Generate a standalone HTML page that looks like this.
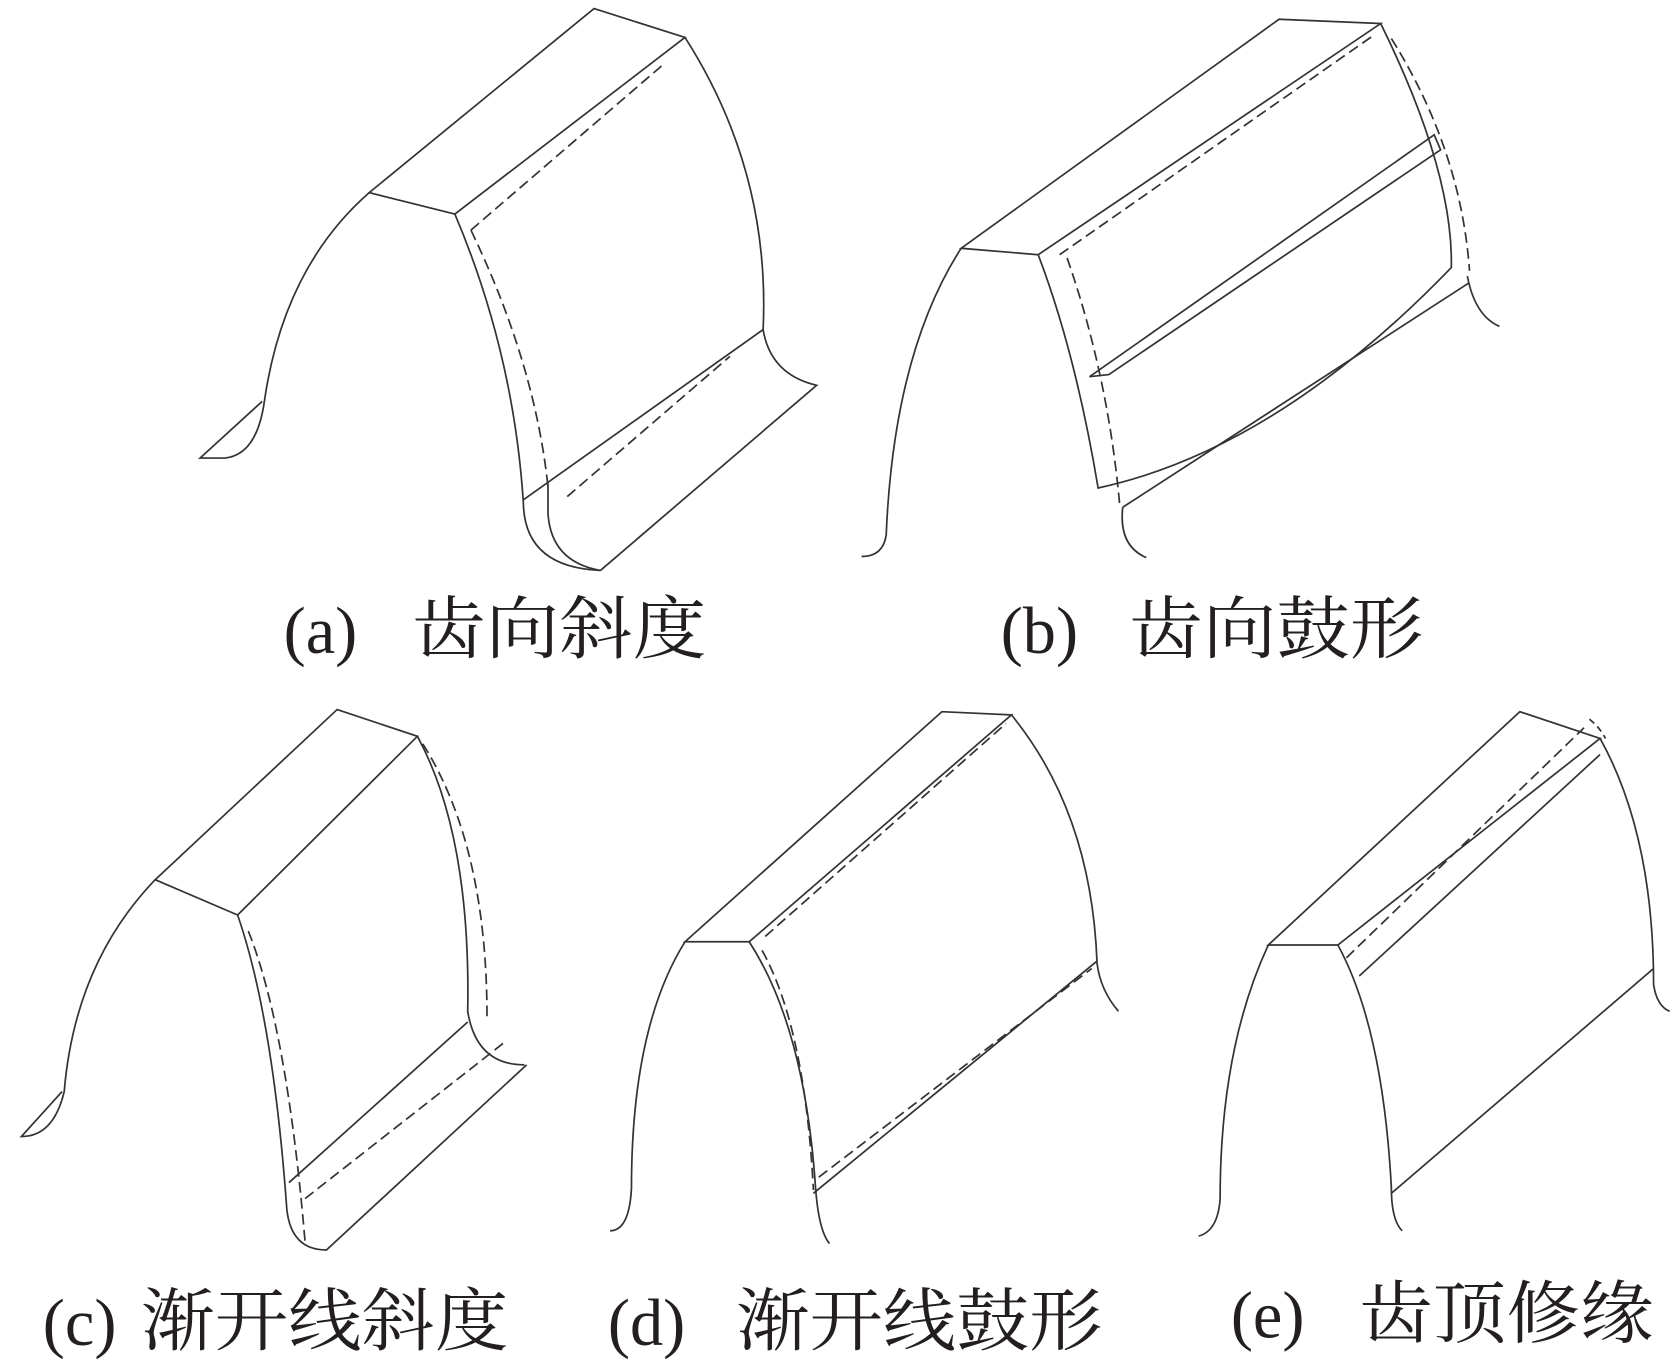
<!DOCTYPE html>
<html><head><meta charset="utf-8"><style>
html,body{margin:0;padding:0;background:#fff}
svg{display:block}
text{font-family:"Liberation Serif","Noto Serif CJK SC",serif;font-size:62px;fill:#231f20}
text.c{font-family:"Noto Serif CJK SC","Noto Sans CJK SC",serif;font-size:64px}
</style></head><body>
<svg width="1675" height="1372" viewBox="0 0 1565 1282" preserveAspectRatio="none">
<g fill="none" stroke="#333" stroke-width="1.6">
<!-- (a) -->
<path d="M555,8 L640,35 L425,200 L345,180 Z"/>
<path d="M345,180 Q265,250 247,375 Q240,425 210,428 L187,428 L245,375"/>
<path d="M425,200 Q480,330 489,470 Q490,530 561,533"/>
<path d="M512,452 L512,480 Q515,525 561,533"/>
<path d="M640,35 Q720,160 713,308 Q720,350 763,360 L561,533"/>
<path d="M489,467 L713,308"/>
<path d="M440,215 L620,60" stroke-dasharray="10,5"/>
<path d="M440,215 Q500,340 512,455" stroke-dasharray="10,5"/>
<path d="M530,464 L682,333" stroke-dasharray="10,5"/>
<!-- (b) -->
<path d="M898,232 L1195,18 L1290,22 L970,238 Z"/>
<path d="M898,232 Q835,330 828,500 Q825,520 805,520"/>
<path d="M970,238 Q1005,330 1026,456 Q1192,420 1356,250 Q1358,160 1290,22"/>
<path d="M1018,352 L1340,126 L1346,140 L1036,350 Z"/>
<path d="M1049,474 L1373,264"/>
<path d="M1049,474 Q1045,510 1071,521"/>
<path d="M1371,258 Q1378,295 1401,305"/>
<path d="M997,241 Q1035,350 1046,470" stroke-dasharray="10,5"/>
<path d="M1300,36 Q1365,140 1373,253" stroke-dasharray="10,5"/>
<path d="M990,238 L1282,34" stroke-dasharray="10,5"/>
<!-- (c) -->
<path d="M315,663 L390,688 L222,855 L145,822 Z"/>
<path d="M145,822 Q70,900 60,1020 Q50,1062 20,1062 L58,1020"/>
<path d="M222,855 Q255,950 268,1130 Q272,1168 305,1168 L492,995"/>
<path d="M390,688 Q440,780 437,945 Q445,995 490,995"/>
<path d="M437,955 L270,1105"/>
<path d="M395,695 Q455,790 455,950" stroke-dasharray="10,5"/>
<path d="M232,870 Q268,960 285,1160" stroke-dasharray="10,5"/>
<path d="M285,1120 L470,975" stroke-dasharray="10,5"/>
<!-- (d) -->
<path d="M880,665 L945,668 L700,880 L640,880 Z"/>
<path d="M640,880 Q590,960 590,1110 Q588,1150 570,1150"/>
<path d="M700,880 Q752,960 762,1110 Q765,1150 775,1162"/>
<path d="M945,668 Q1020,760 1025,900 Q1028,925 1045,945"/>
<path d="M760,1115 L1025,898"/>
<path d="M715,875 L940,676" stroke-dasharray="10,5"/>
<path d="M765,1100 L1020,905" stroke-dasharray="10,5"/>
<path d="M712,888 Q752,960 760,1112" stroke-dasharray="10,5"/>
<!-- (e) -->
<path d="M1420,665 L1495,690 L1250,883 L1185,883 Z"/>
<path d="M1185,883 Q1140,980 1140,1120 Q1138,1150 1120,1155"/>
<path d="M1250,883 Q1292,960 1300,1110 Q1300,1140 1310,1150"/>
<path d="M1495,690 Q1545,780 1545,920 Q1548,940 1560,945"/>
<path d="M1300,1115 L1545,905"/>
<path d="M1270,912 L1495,705"/>
<path d="M1258,895 L1480,680" stroke-dasharray="10,5"/>
<path d="M1485,672 Q1495,680 1500,690" stroke-dasharray="6,4"/>
</g>
<text x="265" y="610">(a)</text><text class="c" x="385" y="610" textLength="275" lengthAdjust="spacingAndGlyphs">齿向斜度</text>
<text x="935" y="610">(b)</text><text class="c" x="1055" y="610" textLength="275" lengthAdjust="spacingAndGlyphs">齿向鼓形</text>
<text x="40" y="1257">(c)</text><text class="c" x="132" y="1257" textLength="343" lengthAdjust="spacingAndGlyphs">渐开线斜度</text>
<text x="568" y="1257">(d)</text><text class="c" x="688" y="1257" textLength="342" lengthAdjust="spacingAndGlyphs">渐开线鼓形</text>
<text x="1150" y="1250">(e)</text><text class="c" x="1270" y="1250" textLength="275" lengthAdjust="spacingAndGlyphs">齿顶修缘</text>
</svg>
</body></html>
